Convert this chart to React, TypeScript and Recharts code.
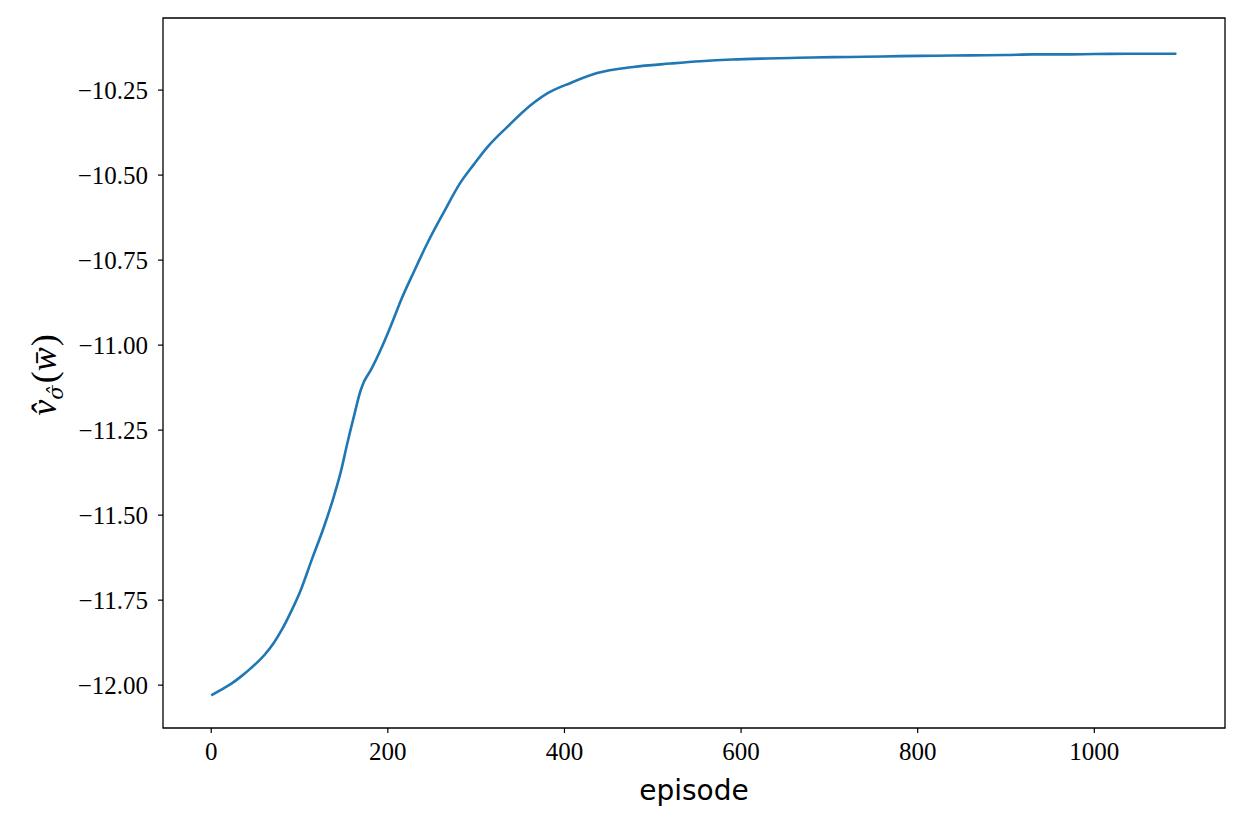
import React from "react";
import { LineChart, Line, XAxis, YAxis, ReferenceArea } from "recharts";

// episode numbers and the value estimate
const episodes = [
  0, 10, 22, 35, 45, 60, 71, 80, 90, 101, 114, 128, 139, 147, 154, 162, 169,
  173, 181, 192, 203, 215, 229, 245, 263, 282, 297, 313, 335, 362, 381, 407,
  437, 478, 520, 554, 590, 629, 665, 704, 740, 780, 820, 860, 900, 930, 965,
  1000, 1050, 1093,
];
const values = [
  -12.03, -12.015, -11.997, -11.972, -11.95, -11.912, -11.875, -11.837,
  -11.786, -11.723, -11.63, -11.532, -11.444, -11.37, -11.29, -11.205,
  -11.135, -11.108, -11.072, -11.013, -10.946, -10.867, -10.787, -10.699,
  -10.611, -10.523, -10.47, -10.417, -10.359, -10.294, -10.259, -10.229, -10.2,
  -10.182, -10.172, -10.165, -10.16, -10.157, -10.155, -10.153, -10.152,
  -10.15, -10.149, -10.148, -10.147, -10.145, -10.145, -10.144, -10.143,
  -10.143,
];

const xTicks = [0, 200, 400, 600, 800, 1000];
const yTicks = [-12, -11.75, -11.5, -11.25, -11, -10.75, -10.5, -10.25];
const xDomain = [-54.6, 1148];
const yDomain = [-12.126, -10.038];

const data = episodes.map((ep, i) => ({ ep, v: values[i] }));

const tickFont = { fontFamily: "Liberation Serif", fontSize: 25, fill: "#000" };
const fmtY = (v: number) => v.toFixed(2).replace("-", "\u2212");

function XLabel() {
  return (
    <text
      x={694}
      y={800}
      textAnchor="middle"
      fontFamily="DejaVu Sans"
      fontSize={28}
      fill="#000"
    >
      episode
    </text>
  );
}

function YLabel() {
  return (
    <text
      x={0}
      y={0}
      transform="translate(56 375) rotate(-90)"
      textAnchor="middle"
      fontFamily="Liberation Serif"
      fontSize={36}
      fill="#000"
    >
      <tspan fontStyle="italic">{"v\u0302"}</tspan>
      <tspan fontFamily="DejaVu Serif" fontStyle="italic" fontSize={21} dy={7}>
        {"\u03c3\u0302"}
      </tspan>
      <tspan dy={-7} dx={2}>(</tspan>
      <tspan fontStyle="italic">{"w\u0304"}</tspan>
      <tspan dx={1}>)</tspan>
    </text>
  );
}

export default function App() {
  return (
    <div style={{ width: 1246, height: 830, background: "#fff" }}>
      <style>{"body{margin:0}"}</style>
      <LineChart
        width={1246}
        height={830}
        data={data}
        margin={{ top: 18, right: 21, left: 63, bottom: 42 }}
      >
        <XAxis
          dataKey="ep"
          type="number"
          domain={xDomain}
          ticks={xTicks}
          allowDataOverflow
          height={60}
          tick={tickFont}
          tickSize={5}
          tickMargin={9}
          axisLine={false}
          tickLine={{ stroke: "#000", strokeWidth: 1.2 }}
          label={<XLabel />}
        />
        <YAxis
          type="number"
          domain={yDomain}
          ticks={yTicks}
          allowDataOverflow
          width={100}
          tick={tickFont}
          tickFormatter={fmtY}
          tickSize={5}
          tickMargin={10}
          axisLine={false}
          tickLine={{ stroke: "#000", strokeWidth: 1.2 }}
          label={<YLabel />}
        />
        <Line
          dataKey="v"
          type="monotone"
          stroke="#1f77b4"
          strokeWidth={2.6}
          dot={false}
          isAnimationActive={false}
        />
        <ReferenceArea
          x1={xDomain[0]}
          x2={xDomain[1]}
          y1={yDomain[0]}
          y2={yDomain[1]}
          fill="none"
          stroke="#000"
          strokeWidth={1.3}
          ifOverflow="visible"
        />
      </LineChart>
    </div>
  );
}
